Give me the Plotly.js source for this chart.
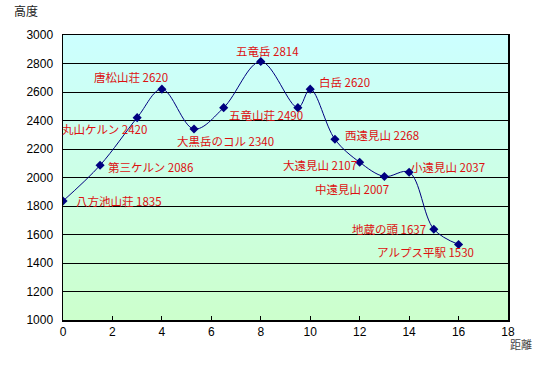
<!DOCTYPE html>
<html>
<head>
<meta charset="utf-8">
<script src="https://cdn.plot.ly/plotly-3.0.1.min.js"></script>
<style>html,body{margin:0;padding:0;background:#fff;}#chart{width:540px;height:370px;}</style>
</head>
<body>
<div id="chart"></div>
<script>
// Data
const distances = [0, 1.5, 3, 4, 5.3, 6.5, 8, 9.5, 10, 11, 12, 13, 14, 15, 16];
const altitudes = [1835, 2086, 2420, 2620, 2340, 2490, 2814, 2490, 2620, 2268, 2107, 2007, 2037, 1637, 1530];
const names = ["八方池山荘", "第三ケルン", "丸山ケルン", "唐松山荘", "大黒岳のコル", "五竜山荘", "五竜岳", "", "白岳", "西遠見山", "大遠見山", "中遠見山", "小遠見山", "地蔵の頭", "アルプス平駅"];
const yTicks = [1000, 1200, 1400, 1600, 1800, 2000, 2200, 2400, 2600, 2800, 3000];
const xTicks = [0, 2, 4, 6, 8, 10, 12, 14, 16, 18];

// label placement (style only, pixel offsets of label centre): [xshift, yshift]
const labelPlace = [
  [56, 0],
  [50, -2],
  [-33, -11],
  [-31, 12],
  [31, -12],
  [42, -7],
  [7, 11],
  [0, 0],
  [34, 7],
  [47, 4],
  [-40, -3],
  [-32, -12],
  [39, 5],
  [-45, 0],
  [-33, -8]
];

const annotations = [];
names.forEach((n, i) => {
  if (!n) return;
  const p = labelPlace[i];
  annotations.push({
    x: distances[i], y: altitudes[i], xref: 'x', yref: 'y',
    text: n + ' ' + altitudes[i], showarrow: false,
    xanchor: 'center', yanchor: 'middle', xshift: p[0], yshift: p[1],
    font: {family: '"Noto Sans CJK JP", sans-serif', size: 11.5, color: '#dd1111'}
  });
});
annotations.push({xref: 'paper', yref: 'paper', x: -0.115, y: 1.085, xanchor: 'left', yanchor: 'middle',
  text: '高度', showarrow: false, font: {family: '"Noto Sans CJK JP", sans-serif', size: 12, color: '#222'}});
annotations.push({xref: 'paper', yref: 'paper', x: 1.0, y: -0.085, xanchor: 'left', yanchor: 'middle',
  text: '距離', showarrow: false, font: {family: '"Noto Sans CJK JP", sans-serif', size: 11, color: '#444'}});

const svg = '<svg xmlns="http://www.w3.org/2000/svg" width="100" height="100" preserveAspectRatio="none">' +
  '<defs><linearGradient id="g" x1="0" y1="0" x2="0" y2="1">' +
  '<stop offset="0" stop-color="#ccffff"/><stop offset="1" stop-color="#ccffcc"/></linearGradient></defs>' +
  '<rect width="100" height="100" fill="url(#g)"/></svg>';

const trace = {
  x: distances, y: altitudes, type: 'scatter', mode: 'lines+markers',
  line: {color: '#000080', width: 1, shape: 'spline', smoothing: 1},
  marker: {symbol: 'diamond', size: 7, color: '#000080'},
  hoverinfo: 'skip'
};

const layout = {
  width: 540, height: 370,
  margin: {l: 63, r: 32, t: 35, b: 50},
  paper_bgcolor: '#ffffff',
  plot_bgcolor: 'rgba(0,0,0,0)',
  showlegend: false,
  font: {family: '"Liberation Sans", Arial, sans-serif', size: 12, color: '#000'},
  images: [{
    source: 'data:image/svg+xml;charset=utf-8,' + encodeURIComponent(svg),
    xref: 'paper', yref: 'paper', x: 0, y: 1, sizex: 1, sizey: 1,
    sizing: 'stretch', xanchor: 'left', yanchor: 'top', layer: 'below'
  }],
  xaxis: {
    range: [0, 18], tickvals: xTicks, ticktext: xTicks.map(String),
    showgrid: false, zeroline: false,
    showline: true, linecolor: '#000', linewidth: 1.5, mirror: true,
    ticks: 'inside', ticklen: 4, tickcolor: '#000',
    tickfont: {size: 12, color: '#000'}
  },
  yaxis: {
    range: [1000, 3000], tickvals: yTicks, ticktext: yTicks.map(String),
    showgrid: true, gridcolor: '#000', gridwidth: 1, zeroline: false,
    showline: true, linecolor: '#000', linewidth: 1.5, mirror: true,
    ticks: '', ticklabelstandoff: 6,
    tickfont: {size: 12, color: '#000'}
  },
  annotations: annotations
};

Plotly.newPlot('chart', [trace], layout, {displayModeBar: false, staticPlot: true});
</script>
</body>
</html>
